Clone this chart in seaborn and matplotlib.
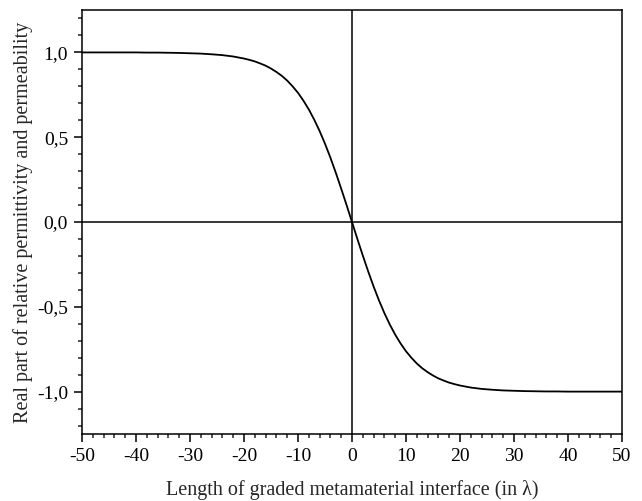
import numpy as np
import pandas as pd
import matplotlib
matplotlib.use('Agg')
import matplotlib.pyplot as plt
import seaborn as sns
from matplotlib.ticker import MultipleLocator, FuncFormatter

# values
x_pos = [-50, -45, -40, -38, -36, -34, -32, -30, -28, -26, -24, -22, -20,
         -19, -18, -17, -16, -15, -14, -13, -12, -11, -10, -9, -8, -7, -6,
         -5, -4, -3, -2, -1, 0, 1, 2, 3, 4, 5, 6, 7, 8, 9, 10, 11, 12, 13,
         14, 15, 16, 17, 18, 19, 20, 22, 24, 26, 28, 30, 32, 34, 36, 38, 40,
         45, 50]
eps_real = [1.000, 1.000, 1.000, 0.999, 0.999, 0.998, 0.997, 0.995, 0.993,
            0.989, 0.984, 0.976, 0.964, 0.956, 0.947, 0.935, 0.922, 0.905,
            0.885, 0.862, 0.834, 0.800, 0.762, 0.716, 0.664, 0.604, 0.537,
            0.462, 0.380, 0.291, 0.197, 0.100, 0.000, -0.100, -0.197, -0.291,
            -0.380, -0.462, -0.537, -0.604, -0.664, -0.716, -0.762, -0.800,
            -0.834, -0.862, -0.885, -0.905, -0.922, -0.935, -0.947, -0.956,
            -0.964, -0.976, -0.984, -0.989, -0.993, -0.995, -0.997, -0.998,
            -0.999, -0.999, -1.000, -1.000, -1.000]

df = pd.DataFrame({'x': x_pos, 'y': eps_real})

sns.set_style('ticks')
plt.rcParams['font.family'] = ['Liberation Serif', 'DejaVu Serif']
plt.rcParams['axes.unicode_minus'] = False

fig = plt.figure(figsize=(6.42, 5.01), dpi=100)
ax = fig.add_axes([0.1277, 0.1337, 0.8411, 0.8463])

ax.axhline(0, color='black', lw=1.1, zorder=1)
ax.axvline(0, color='black', lw=1.1, zorder=1)
sns.lineplot(data=df, x='x', y='y', ax=ax, color='black', lw=1.3,
             sort=False, zorder=3)

ax.set_xlim(-50, 50)
ax.set_ylim(-1.25, 1.25)
ax.xaxis.set_major_locator(MultipleLocator(10))
ax.xaxis.set_minor_locator(MultipleLocator(2))
ax.yaxis.set_major_locator(MultipleLocator(0.5))
ax.yaxis.set_minor_locator(MultipleLocator(0.1))
ax.yaxis.set_major_formatter(FuncFormatter(lambda v, p: '{:.1f}'.format(v).replace('.', ',')))
ax.xaxis.set_major_formatter(FuncFormatter(lambda v, p: '{:d}'.format(int(round(v)))))

ax.tick_params(which='major', direction='out', length=6, width=1.1,
               labelsize=14, colors='black', pad=4)
ax.tick_params(which='minor', direction='out', length=3, width=1.1)
for s in ax.spines.values():
    s.set_linewidth(1.1)
    s.set_color('black')

ax.set_xlabel('Length of graded metamaterial interface (in λ)', fontsize=14.5, labelpad=11)
ax.set_ylabel('Real part of relative permittivity and permeability', fontsize=14.5, labelpad=3)

fig.savefig('out.png', dpi=100)
